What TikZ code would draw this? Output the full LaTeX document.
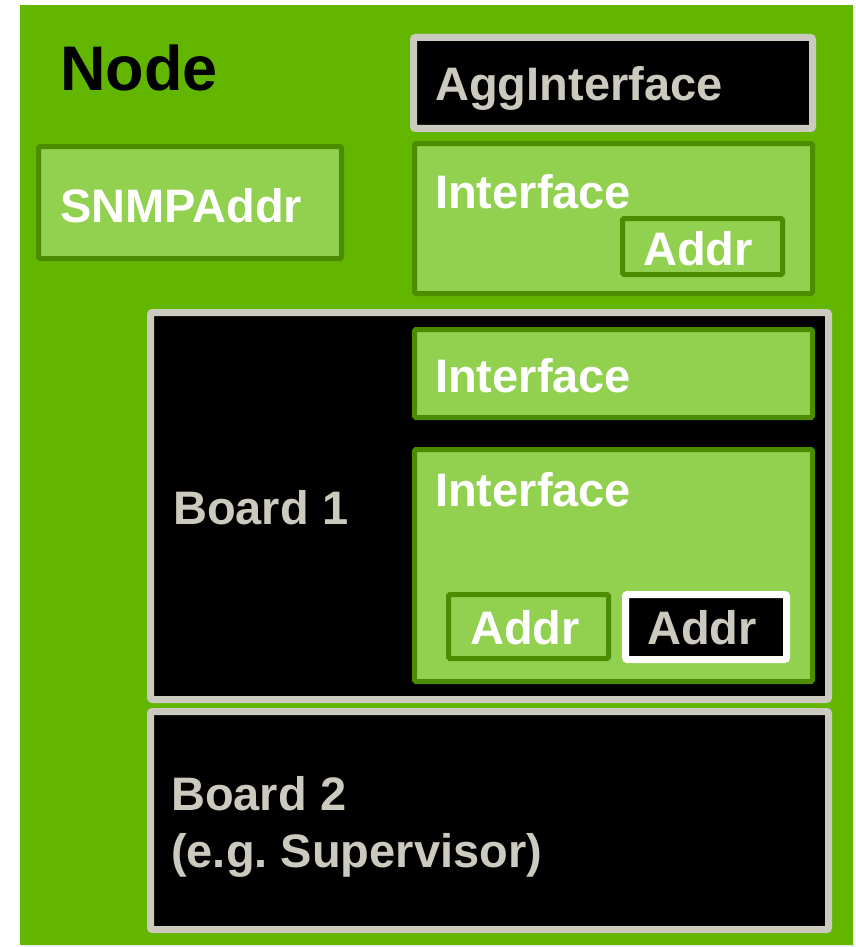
\documentclass[tikz,border=0pt]{standalone}
\usepackage{fontspec}
\setmainfont{Liberation Sans}
\usetikzlibrary{shadows}

\definecolor{nodegreen}{RGB}{99,182,0}
\definecolor{lightgreen}{RGB}{146,208,80}
\definecolor{darkgreen}{RGB}{76,140,0}
\definecolor{boardgray}{RGB}{204,201,190}

\begin{document}
\begin{tikzpicture}[x=1pt,y=-1pt,
    greenbox/.style={rectangle,draw=darkgreen,fill=lightgreen,line width=5pt,rounded corners=1.5pt,inner sep=0pt,
      drop shadow={shadow xshift=1pt,shadow yshift=-2pt,opacity=.2}},
    blackbox/.style={rectangle,draw=boardgray,fill=black,line width=7pt,rounded corners=2pt,inner sep=0pt,
      drop shadow={shadow xshift=1pt,shadow yshift=-3pt,opacity=.3}},
    whitebox/.style={blackbox,draw=white},
    lbl/.style={inner sep=0pt,anchor=base west,font=\fontsize{47}{57}\selectfont\bfseries},
    wlbl/.style={lbl,text=white},
    glbl/.style={lbl,text=boardgray}]
    \useasboundingbox (0,0) rectangle (856,947);
    % outer node frame
    \node [rectangle,fill=nodegreen,inner sep=0pt,minimum width=833,minimum height=940,
      drop shadow={shadow xshift=2pt,shadow yshift=-2pt,opacity=.15}] (frame) at (436.5,475) {};
    \node [lbl,font=\fontsize{63}{70}\selectfont\bfseries] (nodelbl) at (60,91) {Node};

    % top row
    \node [blackbox,minimum width=399,minimum height=91] (agg) at (613,83) {};
    \node [glbl] (agglbl) at (435,101) {AggInterface};
    \node [greenbox,minimum width=303,minimum height=112] (snmp) at (190,202.5) {};
    \node [wlbl] (snmplbl) at (60,222) {SNMPAddr};
    \node [greenbox,minimum width=398,minimum height=150] (ifa) at (613.5,218.5) {};
    \node [wlbl] (ifalbl) at (435,208) {Interface};
    \node [greenbox,minimum width=160,minimum height=56] (addra) at (702.5,246.5) {};
    \node [wlbl] (addralbl) at (643,265) {Addr};

    % board 1
    \node [blackbox,minimum width=678,minimum height=387] (board1) at (489.5,506) {};
    \node [glbl] (board1lbl) at (173,524) {Board 1};
    \node [greenbox,minimum width=398,minimum height=88] (ifb) at (613.5,373.5) {};
    \node [wlbl] (ifblbl) at (435,392) {Interface};
    \node [greenbox,minimum width=398,minimum height=232] (ifc) at (613.5,565.5) {};
    \node [wlbl] (ifclbl) at (435,506) {Interface};
    \node [greenbox,minimum width=160,minimum height=64] (addrb) at (528.5,626.5) {};
    \node [wlbl] (addrblbl) at (470,644) {Addr};
    \node [whitebox,minimum width=161,minimum height=65] (addrc) at (706,627) {};
    \node [glbl] (addrclbl) at (647,644) {Addr};

    % board 2
    \node [blackbox,minimum width=678,minimum height=218] (board2) at (489.5,820.5) {};
    \node [glbl,align=left] (board2lbl) at (171,867) {Board 2\\(e.g.\ Supervisor)};
\end{tikzpicture}
\end{document}
